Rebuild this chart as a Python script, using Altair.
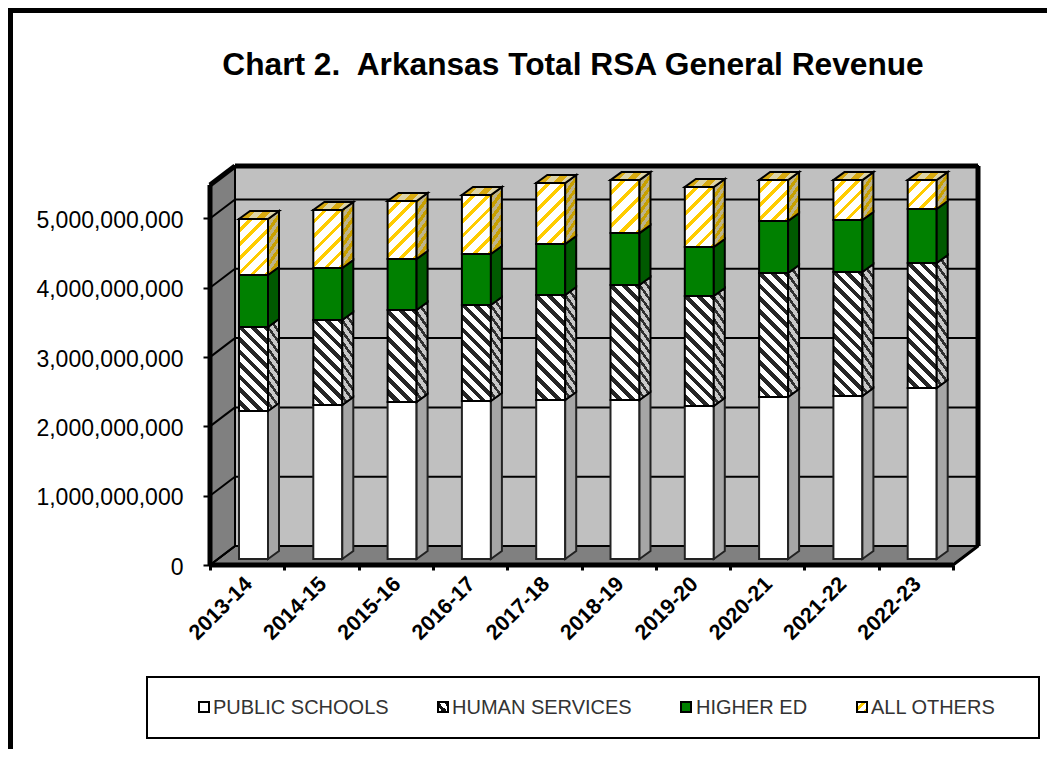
import altair as alt
import pandas as pd

CATS = ["2013-14","2014-15","2015-16","2016-17","2017-18","2018-19","2019-20","2020-21","2021-22","2022-23"]
PUBLIC = [2136,2222,2265,2280,2294,2294,2208,2338,2352,2468]
HUMAN = [1212,1227,1328,1385,1515,1659,1587,1789,1789,1804]
HIGHER = [750,750,736,736,736,750,707,750,750,779]
OTHERS = [808,837,837,851,880,765,866,592,577,418]
SERIES = ["PUBLIC SCHOOLS","HUMAN SERVICES","HIGHER ED","ALL OTHERS"]
TICKS = [0,1,2,3,4,5]
TITLE = "Chart 2.\u00a0 Arkansas Total RSA General Revenue"

W, H = 1039, 741
PXU, PXV = 74.3, 69.3      # pixels per category / per billion
X0, Y0 = 210, 565          # image position of the front-left corner
xs = alt.Scale(domain=[(8-X0)/PXU, (8+W-X0)/PXU], range=[0, W], nice=False, zero=False)
ys = alt.Scale(domain=[(Y0-8-H)/PXV, (Y0-8)/PXV], range=[H, 0], nice=False, zero=False)
DU, DV = 25/PXU, 19/PXV    # depth of the box
BV = 6/PXV                 # bar plane above chart front
BW = 29/PXU                # bar width
SU, SV = 11/PXU, 8/PXV     # bar depth
TOPV = 380/PXV

XAX = alt.Axis(values=list(range(11)), labels=False, domain=False, grid=False, ticks=True,
               tickSize=5, tickWidth=3, tickColor="black", offset=-(H+8-Y0), title=None)
YAX = alt.Axis(values=[t*1.0 for t in TICKS], labelExpr="format(datum.value*1000000000, ',')",
               domain=False, grid=False, tickSize=7, tickWidth=2, tickColor="black", labelColor="black",
               labelFont="Liberation Sans", labelFontSize=23, labelPadding=20, labelOffset=2,
               offset=-(X0-8), title=None)
def X(): return alt.X("x:Q", scale=xs, axis=XAX)
def Y(): return alt.Y("y:Q", scale=ys, axis=YAX)
X2 = alt.X2("x2:Q"); Y2 = alt.Y2("y2:Q")

def stripes(w, h, period, c1, c2, frac, rising, k=1.0):
    tot = k*w + h
    A, B = k*w/tot, h/tot
    n2 = A*A + B*B
    a, b = A/n2, B/n2
    n = max(1, round(tot/period))
    stops = []
    for i in range(n):
        s = i/n; m = (i+frac)/n; e = (i+1)/n
        stops += [dict(color=c1, offset=s), dict(color=c1, offset=m),
                  dict(color=c2, offset=m), dict(color=c2, offset=e)]
    if rising:
        return dict(gradient="linear", x1=0, y1=0, x2=a, y2=b, stops=stops)
    return dict(gradient="linear", x1=0, y1=1, x2=a, y2=1-b, stops=stops)

layers = []

# walls and floor
layers.append(alt.Chart(pd.DataFrame({"x":[DU],"x2":[10+DU],"y":[DV],"y2":[DV+TOPV]})).mark_rect(
    fill="#c0c0c0", stroke="black", strokeWidth=2).encode(x=X(), x2=X2, y=Y(), y2=Y2))
floor = pd.DataFrame({"x":[0, DU], "x2":[10, 10+DU], "y":[0, DV]})
layers.append(alt.Chart(floor).mark_area(orient="horizontal", fill="#808080", stroke="black", strokeWidth=2).encode(
    y=Y(), x=X(), x2=X2))
layers.append(alt.Chart(pd.DataFrame({"x":[0,DU],"y":[0,DV],"y2":[TOPV,TOPV+DV]})).mark_area(
    fill="#808080", stroke="black", strokeWidth=2).encode(x=X(), y=Y(), y2=Y2))
# grid lines
gd = pd.DataFrame({"t":TICKS})
gd["x"] = DU; gd["x2"] = 10+DU; gd["y"] = gd.t + DV
layers.append(alt.Chart(gd[gd.t > 0]).mark_rule(color="black", strokeWidth=2).encode(x=X(), x2=X2, y=Y()))
gd2 = gd.copy(); gd2["x"] = 0; gd2["x2"] = DU; gd2["y"] = gd.t; gd2["y2"] = gd.t + DV
layers.append(alt.Chart(gd2).mark_rule(color="black", strokeWidth=2).encode(x=X(), x2=X2, y=Y(), y2=Y2))

# bars
FRONT = {0: "white", 2: "#008000"}
SIDE = {0: "#a6a6a6", 2: "#005a00"}
vals = [PUBLIC, HUMAN, HIGHER, OTHERS]
for i in range(len(CATS)):
    left = i + 29/PXU
    base = BV
    for s in range(4):
        v = vals[s][i]/1000
        top = base + v
        hpx = v*PXV
        if s in FRONT:
            ff, fs = FRONT[s], SIDE[s]
        elif s == 1:
            ff = stripes(29, hpx, 13, "white", "#262626", 0.55, False)
            fs = stripes(11, hpx+8, 11, "#c8c8c8", "#303030", 0.6, False, 1.4)
        else:
            ff = stripes(29, hpx, 15, "white", "#ffcc00", 0.68, True)
            fs = stripes(11, hpx+8, 11, "#bdb38a", "#c8a000", 0.5, True, 1.4)
        stroke = "black" if s else "#222222"
        sw = 2
        layers.append(alt.Chart(pd.DataFrame({"x":[left],"x2":[left+BW],"y":[base],"y2":[top]})).mark_rect(
            fill=ff, stroke=stroke, strokeWidth=sw).encode(x=X(), x2=X2, y=Y(), y2=Y2))
        layers.append(alt.Chart(pd.DataFrame({"x":[left+BW, left+BW+SU],"y":[base, base+SV],"y2":[top, top+SV]})).mark_area(
            fill=fs, stroke=stroke, strokeWidth=sw).encode(x=X(), y=Y(), y2=Y2))
        if s == 3:
            ft = stripes(40, 8, 14, "#ddd4a8", "#d8aa10", 0.5, True)
            layers.append(alt.Chart(pd.DataFrame({"x":[left, left+SU],"x2":[left+BW, left+BW+SU],"y":[top, top+SV]})).mark_area(
                orient="horizontal", fill=ft, stroke="black", strokeWidth=sw).encode(y=Y(), x=X(), x2=X2))
        base = top

# heavy edges of the box
def edge(x, x2, y, y2, sw):
    return alt.Chart(pd.DataFrame({"x":[x],"x2":[x2],"y":[y],"y2":[y2]})).mark_rule(
        color="black", strokeWidth=sw).encode(x=X(), x2=X2, y=Y(), y2=Y2)
layers += [edge(0, 10, 0, 0, 5), edge(0, 0, 0, TOPV, 5), edge(0, DU, TOPV, TOPV+DV, 5),
           edge(DU, 10+DU, TOPV+DV, TOPV+DV, 5), edge(10+DU, 10+DU, DV, TOPV+DV, 5), edge(10, 10+DU, 0, DV, 3)]

# category labels
cd = pd.DataFrame({"x":[i+0.5+2/PXU for i in range(10)], "c":CATS})
layers.append(alt.Chart(cd).mark_text(angle=315, align="right", baseline="middle", font="Liberation Sans",
    fontWeight="bold", fontSize=21.5, color="black").encode(x=X(), y=alt.value(581-8), text="c:N"))

# title
layers.append(alt.Chart(pd.DataFrame({"t":[TITLE]})).mark_text(font="Liberation Sans", fontWeight="bold", fontSize=31.7,
    align="center", baseline="middle", color="black").encode(x=alt.value(573-8), y=alt.value(65-8), text="t:N"))

# page frame
one = pd.DataFrame({"a":[0]})
layers.append(alt.Chart(one).mark_rect(fill="black").encode(x=alt.value(0), x2=alt.value(5), y=alt.value(0), y2=alt.value(H)))
layers.append(alt.Chart(one).mark_rect(fill="black").encode(x=alt.value(0), x2=alt.value(W), y=alt.value(0), y2=alt.value(5)))

# legend
layers.append(alt.Chart(one).mark_rect(fill="white", stroke="black", strokeWidth=2).encode(
    x=alt.value(147-8), x2=alt.value(1039-8), y=alt.value(677-8), y2=alt.value(738-8)))
SQ = [199, 438, 681, 857]
TX = [213, 452, 696, 871]
SF = ["white", stripes(10, 10, 10, "white", "#111111", 0.5, False), "#008000", stripes(10, 10, 10, "white", "#ffcc00", 0.6, True)]
for s in range(4):
    layers.append(alt.Chart(one).mark_rect(fill=SF[s], stroke="black", strokeWidth=2).encode(
        x=alt.value(SQ[s]-8), x2=alt.value(SQ[s]+10-8), y=alt.value(702-8), y2=alt.value(712-8)))
    layers.append(alt.Chart(pd.DataFrame({"t":[SERIES[s]]})).mark_text(font="Liberation Sans", fontSize=20, align="left",
        baseline="middle", color="#333333").encode(x=alt.value(TX[s]-8), y=alt.value(708-8), text="t:N"))

chart = alt.layer(*layers).properties(width=W, height=H, padding=0, autosize="none", background="white").configure_view(stroke=None)
chart.save("out.html", embed_options={"renderer": "svg", "actions": False})
